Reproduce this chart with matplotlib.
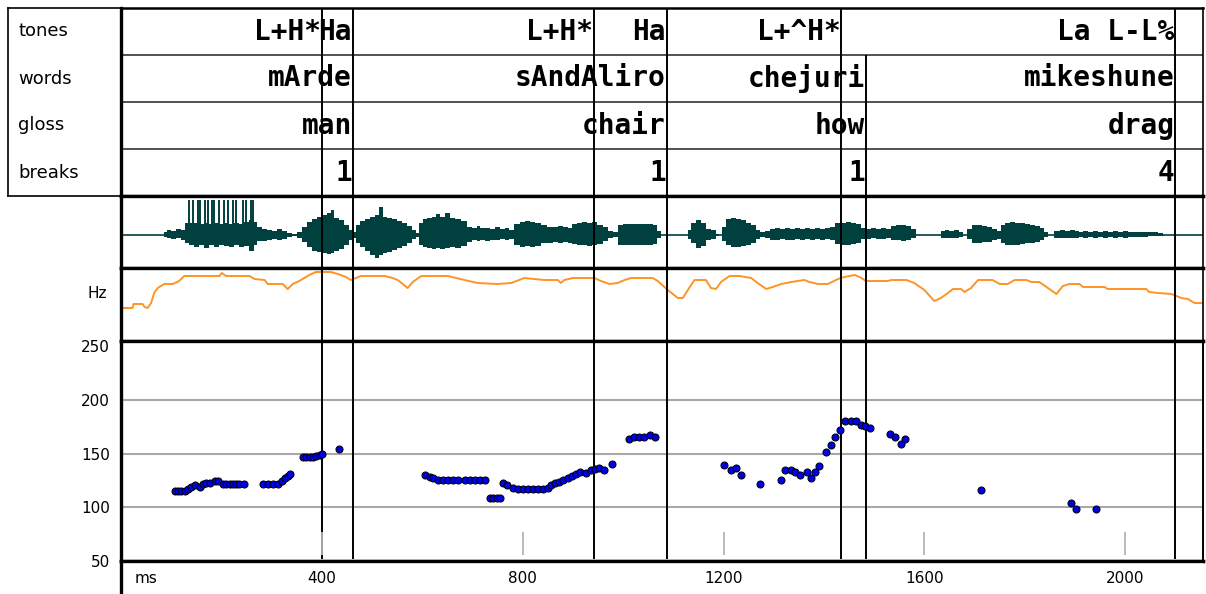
import matplotlib
matplotlib.use("Agg")
import matplotlib.pyplot as plt

# ---- annotation tiers (label text, time in ms of its right edge) ----
tone_labels = ["L+H*", "Ha", "L+H*", "Ha", "L+^H*", "La L-L%"]
tone_ms = [401, 462, 943, 1087, 1435, 2100]
word_labels = ["mArde", "sAndAliro", "chejuri", "mikeshune"]
gloss_labels = ["man", "chair", "how", "drag"]
break_labels = ["1", "1", "1", "4"]
word_ms = [462, 1087, 1484, 2100]
tier_names = ["tones", "words", "gloss", "breaks"]

# ---- waveform envelope (ms, upper, lower) in px from the zero line ----
wave_ms = [0, 84, 88, 95, 105, 115, 125, 131, 140, 150, 160, 170, 180, 190, 200, 210, 220, 230,
           240, 250, 260, 268, 275, 285, 295, 305, 315, 325, 335, 345, 355, 365, 375, 385, 395,
           405, 415, 420, 430, 440, 450, 460, 465, 472, 480, 490, 500, 510, 518, 525, 535, 545,
           555, 565, 575, 584, 591, 596, 605, 615, 625, 631, 640, 651, 660, 670, 684, 695, 705,
           712, 720, 730, 740, 750, 760, 770, 777, 790, 800, 810, 820, 830, 843, 855, 865, 875,
           885, 895, 903, 913, 923, 933, 943, 955, 965, 975, 985, 995, 1005, 1015, 1025, 1035,
           1045, 1055, 1065, 1072, 1079, 1125, 1132, 1140, 1150, 1160, 1170, 1180, 1189, 1195,
           1200, 1210, 1220, 1230, 1240, 1250, 1260, 1268, 1278, 1288, 1298, 1308, 1318, 1328,
           1338, 1348, 1358, 1368, 1378, 1388, 1398, 1408, 1418, 1428, 1438, 1448, 1458, 1468,
           1478, 1488, 1498, 1508, 1518, 1528, 1538, 1548, 1558, 1568, 1578, 1587, 1630, 1637,
           1645, 1655, 1665, 1673, 1680, 1690, 1700, 1710, 1720, 1730, 1740, 1750, 1756, 1765,
           1775, 1785, 1795, 1805, 1815, 1825, 1835, 1843, 1850, 1866, 1875, 1885, 1895, 1905,
           1912, 1920, 1930, 1940, 1950, 1960, 1970, 1980, 1990, 2000, 2010, 2020, 2030, 2040,
           2050, 2060, 2072, 2080, 2155]
wave_up = [0, 0, 3, 5, 4, 6, 5, 12, 12, 12, 11, 12, 11, 12, 11, 12, 11, 12,
           11, 13, 15, 13, 8, 6, 5, 4, 6, 4, 2, 1, 3, 8, 13, 16, 18,
           20, 22, 25, 17, 15, 10, 5, 3, 10, 14, 16, 18, 20, 28, 18, 17, 16,
           14, 12, 9, 5, 2, 12, 16, 17, 18, 21, 18, 22, 17, 16, 14, 8, 7,
           9, 7, 7, 6, 8, 6, 7, 5, 11, 13, 14, 13, 12, 10, 8, 8, 9,
           8, 7, 11, 12, 13, 12, 13, 10, 8, 4, 3, 10, 11, 11, 11, 11,
           11, 11, 10, 4, 0, 0, 5, 12, 15, 12, 6, 5, 1, 0,
           8, 16, 17, 16, 15, 12, 10, 5, 3, 4, 6, 7, 6, 7,
           6, 7, 6, 7, 6, 7, 6, 7, 8, 12, 12, 13, 12, 11,
           7, 6, 7, 6, 7, 6, 9, 10, 10, 9, 6, 0, 0, 4,
           5, 4, 5, 3, 0, 6, 10, 10, 9, 8, 6, 4, 10, 12,
           13, 12, 12, 11, 10, 9, 7, 3, 0, 4, 5, 4, 5, 4,
           3, 4, 3, 4, 3, 4, 3, 4, 3, 4, 3, 3, 3, 3,
           3, 3, 2, 0, 0]
wave_dn = [0, 0, 2, 3, 4, 3, 5, 8, 10, 12, 10, 13, 10, 12, 10, 11, 12, 10,
           12, 11, 16, 10, 6, 6, 5, 4, 5, 4, 2, 1, 3, 7, 12, 16, 17,
           18, 19, 18, 16, 14, 10, 5, 3, 8, 12, 16, 20, 23, 20, 18, 17, 15,
           13, 11, 8, 4, 2, 10, 12, 13, 14, 13, 14, 13, 12, 13, 11, 7, 5,
           6, 5, 6, 5, 5, 4, 5, 4, 10, 12, 11, 12, 11, 8, 8, 7, 8,
           7, 8, 9, 10, 10, 11, 10, 9, 6, 3, 2, 10, 10, 10, 10, 10,
           10, 10, 9, 3, 0, 0, 4, 8, 13, 11, 5, 4, 1, 0,
           6, 10, 12, 12, 11, 10, 8, 4, 2, 3, 5, 5, 4, 5,
           5, 4, 5, 4, 5, 4, 5, 4, 5, 9, 10, 10, 9, 8,
           4, 4, 3, 4, 4, 3, 5, 5, 6, 5, 3, 0, 0, 3,
           3, 3, 3, 2, 0, 4, 8, 8, 7, 7, 5, 4, 8, 10,
           10, 10, 9, 8, 8, 7, 5, 2, 0, 3, 3, 3, 3, 3,
           2, 3, 2, 3, 2, 3, 2, 3, 2, 3, 2, 2, 2, 2,
           1, 1, 1, 0, 0]
clip_ms = [136, 143, 153, 158, 167, 173, 181, 186, 196, 205, 213, 223, 229, 242, 249, 258, 262]

# ---- pitch track panel (ms, height in px above panel bottom) ----
track_ms = [0, 0, 23, 25, 43, 47, 53, 60, 66, 73, 86, 103, 116, 126, 196, 201, 209, 256, 266, 286,
            292, 322, 332, 342, 355, 375, 388, 418, 432, 448, 458, 468, 478, 525, 541, 551, 571,
            581, 598, 651, 684, 710, 750, 777, 793, 803, 843, 870, 876, 883, 900, 943, 956, 973,
            989, 1003, 1016, 1059, 1069, 1089, 1109, 1119, 1129, 1142, 1165, 1175, 1185, 1195,
            1212, 1232, 1255, 1268, 1285, 1298, 1315, 1335, 1361, 1371, 1388, 1408, 1428, 1441,
            1461, 1471, 1484, 1527, 1534, 1564, 1580, 1600, 1620, 1633, 1647, 1657, 1673, 1680,
            1693, 1707, 1736, 1750, 1766, 1780, 1803, 1813, 1829, 1849, 1863, 1876, 1889, 1909,
            1916, 1959, 1965, 2042, 2048, 2065, 2092, 2112, 2125, 2138, 2151]
track_v = [0, 33, 33, 37, 37, 34, 33, 38, 48, 53, 57, 57, 60, 65, 65, 68, 65, 65, 62, 61,
           57, 57, 52, 57, 60, 66, 69, 69, 67, 64, 61, 63, 65, 65, 63, 61, 53,
           59, 65, 65, 61, 58, 57, 58, 61, 63, 61, 61, 58, 61, 63, 63, 60, 57,
           58, 61, 63, 63, 60, 51, 43, 43, 51, 61, 61, 53, 52, 59,
           65, 65, 63, 58, 52, 54, 57, 59, 61, 59, 57, 57, 62, 64,
           66, 64, 60, 60, 61, 61, 58, 51, 40, 43, 48, 52, 52, 49,
           53, 61, 61, 57, 57, 61, 61, 59, 59, 52, 47, 55, 57, 57,
           54, 54, 52, 52, 49, 48, 47, 43, 42, 38, 38]

# ---- F0 points ----
f0_ms = [107, 114, 120, 127, 134, 140, 147, 157, 163, 170, 177, 187, 193, 203, 210, 217, 223, 230,
         236, 244, 283, 293, 303, 313, 320, 326, 333, 336, 363, 369, 376, 382, 389, 396, 401, 434,
         605, 615, 622, 632, 641, 651, 661, 671, 685, 695, 705, 715, 725, 735, 741, 748, 754,
         761, 769, 781, 791, 801, 811, 821, 831, 841, 851, 856, 864, 873, 881, 890, 898, 907,
         915, 926, 936, 945, 953, 962, 977, 1011, 1021, 1031, 1041, 1053, 1063, 1200, 1214,
         1225, 1234, 1273, 1315, 1323, 1334, 1342, 1352, 1366, 1374, 1383, 1391, 1405, 1415,
         1423, 1432, 1442, 1454, 1464, 1474, 1482, 1491, 1531, 1542, 1553, 1562, 1712, 1892,
         1902, 1942]
f0_hz = [115.4, 115.4, 115.4, 115.4, 117.0, 118.8, 120.4, 119.4, 121.6, 122.8, 122.8, 124.4,
         124.4, 121.9, 121.9, 121.9, 121.9, 121.9, 121.9, 121.9, 121.9, 121.9, 121.9, 121.9,
         124.4, 126.9, 129.0, 130.9, 146.6, 146.6, 146.6, 146.6, 147.8, 148.8, 150.0, 154.0,
         130.6, 128.0, 127.5, 125.9, 125.9, 125.9, 125.9, 125.9, 125.9, 125.9, 125.9, 125.9,
         125.9, 109.0, 109.0, 109.0, 109.0, 122.5, 120.6, 117.9, 117.3, 117.3, 117.3, 117.3,
         117.3, 117.3, 117.9, 120.9, 122.4, 123.9, 125.5, 127.6, 129.4, 131.3, 132.5, 131.9,
         135.0, 135.6, 136.8, 134.4, 140.5, 163.8, 165.6, 165.6, 165.6, 167.8, 165.6, 139.3,
         134.7, 137.1, 130.0, 122.1, 125.8, 134.7, 135.0, 132.5, 130.0, 132.5, 127.6, 132.5,
         138.7, 151.5, 157.7, 165.6, 172.4, 180.4, 180.4, 180.4, 176.7, 175.5, 174.2, 168.1,
         165.6, 158.9, 163.8, 116.0, 103.7, 98.2, 98.8]
hz_ticks = [50, 100, 150, 200, 250]
grid_hz = [100, 150, 200]
ms_ticks = [400, 800, 1200, 1600, 2000]

W, H = 1206, 594
XMAX = 2155


def rect(x0, y0, x1, y1):
    return [x0 / W, 1 - y1 / H, (x1 - x0) / W, (y1 - y0) / H]


def bare(ax, lw=1.2):
    ax.set_xticks([]); ax.set_yticks([])
    for s in ax.spines.values():
        s.set_linewidth(lw)


fig = plt.figure(figsize=(W / 100, H / 100), dpi=100)
mono = dict(family="DejaVu Sans Mono", weight="bold", fontsize=20)
sans = dict(family="DejaVu Sans", fontsize=13)

# label column
lab = fig.add_axes(rect(8, 8, 121, 196))
bare(lab, 1.2)
for i, name in enumerate(tier_names):
    lab.text(0.09, 0.875 - i * 0.25, name, va="center", ha="left", **sans)

# tiers
tier = fig.add_axes(rect(121, 8, 1203, 196))
bare(tier, 1.2)
tier.spines["left"].set_linewidth(2.4)
tier.spines["top"].set_linewidth(1.8)
tier.spines["bottom"].set_linewidth(2.4)
tier.set_xlim(0, XMAX); tier.set_ylim(0, 4)
for yy in [1, 2, 3]:
    tier.axhline(yy, color="#333333", lw=1.2)
tier.vlines(tone_ms, 0, 4, color="black", lw=1.4)
tier.vlines([t for t in word_ms if t not in tone_ms], 0, 3, color="black", lw=1.4)
for lbl, t in zip(tone_labels, tone_ms):
    tier.text(t - 2, 3.5, lbl, ha="right", va="center", **mono)
for row, labels in zip([2.5, 1.5, 0.5], [word_labels, gloss_labels, break_labels]):
    for lbl, t in zip(labels, word_ms):
        tier.text(t - 2, row, lbl, ha="right", va="center", **mono)

all_marks = sorted(set(tone_ms) | set(word_ms))

# waveform
wave = fig.add_axes(rect(121, 196, 1203, 268))
bare(wave, 1.2)
wave.spines["left"].set_linewidth(2.4)
wave.spines["top"].set_linewidth(2.4)
wave.spines["bottom"].set_linewidth(2.4)
wave.set_xlim(0, XMAX); wave.set_ylim(-33, 39)
teal = "#00403f"
wave.axhline(0, color=teal, lw=1.2)
wave.fill_between(wave_ms, wave_up, [-d for d in wave_dn], step="mid", color=teal, lw=0)
wave.vlines(clip_ms, 0, 35, color=teal, lw=1.4)
wave.vlines(all_marks, -33, 39, color="black", lw=1.4)

# pitch track
ptk = fig.add_axes(rect(121, 268, 1203, 341))
bare(ptk, 1.2)
ptk.spines["left"].set_linewidth(2.4)
ptk.spines["top"].set_linewidth(2.4)
ptk.spines["bottom"].set_linewidth(2.4)
ptk.set_xlim(0, XMAX); ptk.set_ylim(0, 73)
ptk.plot(track_ms, track_v, color="#ff9326", lw=1.4)
ptk.vlines(all_marks, 0, 73, color="black", lw=1.4)
ptk.text(-0.013, 48, "Hz", transform=ptk.get_yaxis_transform(), ha="right", va="center",
         family="DejaVu Sans", fontsize=11)

# F0 points
f0 = fig.add_axes(rect(121, 341, 1203, 561))
f0.set_xlim(0, XMAX); f0.set_ylim(51.5, 255)
for s in f0.spines.values():
    s.set_linewidth(2.4)
f0.spines["right"].set_linewidth(1.4)
f0.set_xticks([])
f0.set_yticks(hz_ticks, [str(v) for v in hz_ticks])
f0.tick_params(axis="y", length=0, pad=8, labelsize=11)
for g in grid_hz:
    f0.axhline(g, color="#a8a8a8", lw=1.5, zorder=1)
f0.vlines(all_marks, 51.5, 255, color="black", lw=1.4, zorder=2)
f0.vlines(ms_ticks, 56, 77, color="#b4b4b4", lw=1.3, zorder=3)
f0.scatter(f0_ms, f0_hz, s=26, color="#0000e6", edgecolor="black", linewidths=0.7, zorder=4)

# time axis strip
bot = fig.add_axes(rect(121, 561, 1203, 594))
bot.set_xlim(0, XMAX); bot.set_ylim(0, 1)
bot.set_xticks([]); bot.set_yticks([])
for k in ["right", "bottom"]:
    bot.spines[k].set_visible(False)
bot.spines["left"].set_linewidth(2.4)
bot.spines["top"].set_linewidth(2.4)
bot.text(27, 0.48, "ms", ha="left", va="center", family="DejaVu Sans", fontsize=11)
for t in ms_ticks:
    bot.text(t, 0.48, str(t), ha="center", va="center", family="DejaVu Sans", fontsize=11)

fig.savefig("out.png", dpi=100)
